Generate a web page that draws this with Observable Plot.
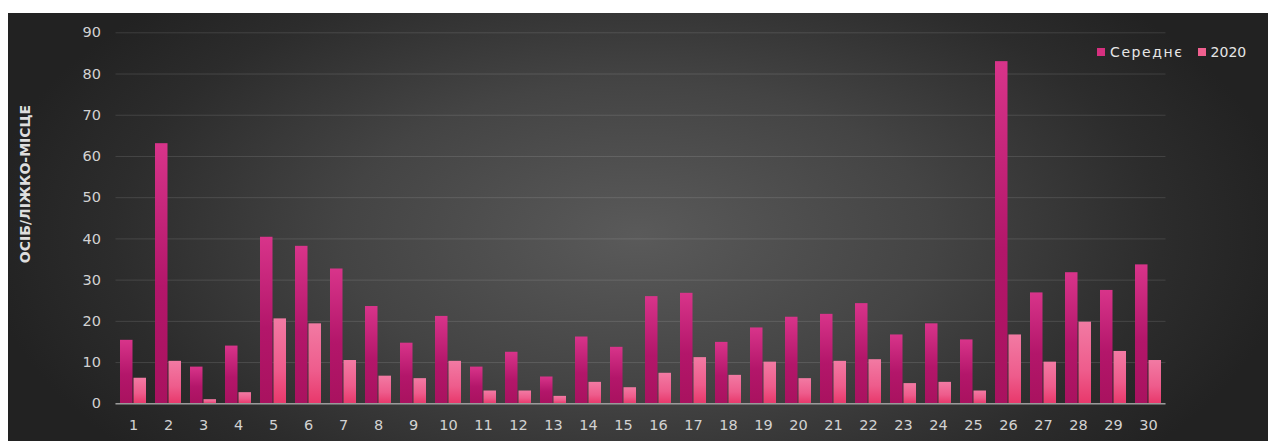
<!DOCTYPE html>
<html>
<head>
<meta charset="utf-8">
<script src="https://cdn.jsdelivr.net/npm/d3@7"></script>
<script src="https://cdn.jsdelivr.net/npm/@observablehq/plot@0.6"></script>
<style>
  html, body { margin: 0; padding: 0; background: #ffffff; }
  body { width: 1268px; height: 441px; position: relative; overflow: hidden; font-family: "DejaVu Sans", sans-serif; }
  #panel {
    position: absolute; left: 8px; top: 13px; width: 1260px; height: 428px;
    background: radial-gradient(ellipse 52% 80% at 50% 52%, #5a5a5a 0%, #444444 45%, #2c2c2c 80%, #222222 100%);
  }
  #ylabel {
    position: absolute; left: 17px; top: 176px; width: 16px; height: 16px;
  }
  #ylabel span {
    position: absolute; left: 50%; top: 50%; white-space: nowrap;
    transform: translate(-50%, -50%) rotate(-90deg);
    font-family: "DejaVu Sans", sans-serif; font-weight: bold; font-size: 14px; color: #dedede;
  }
  #legend {
    position: absolute; left: 1097px; top: 44px; display: flex; align-items: center;
    font-family: "DejaVu Sans", sans-serif; font-size: 14px; color: #e6e6e6;
  }
  #legend .sw { width: 8px; height: 8px; display: inline-block; margin-right: 5px; }
  #legend .item { display: flex; align-items: center; margin-right: 14px; }
  #legend .item:first-child span:last-child { letter-spacing: 1.6px; }
</style>
</head>
<body>
<div id="panel"></div>
<div id="ylabel"><span></span></div>
<div id="legend"></div>
<script>
const categories = ["1","2","3","4","5","6","7","8","9","10","11","12","13","14","15","16","17","18","19","20","21","22","23","24","25","26","27","28","29","30"];
const seriesNames = ["Середнє", "2020"];
const averageValues = [15.4, 63.1, 8.9, 14.0, 40.4, 38.2, 32.7, 23.6, 14.7, 21.2, 8.9, 12.5, 6.5, 16.2, 13.7, 26.0, 26.8, 14.9, 18.4, 21.0, 21.7, 24.3, 16.7, 19.4, 15.5, 83.0, 26.9, 31.8, 27.5, 33.7];
const values2020 = [6.2, 10.3, 1.0, 2.7, 20.6, 19.4, 10.5, 6.7, 6.1, 10.3, 3.1, 3.1, 1.8, 5.2, 3.9, 7.4, 11.2, 6.9, 10.1, 6.1, 10.3, 10.7, 4.9, 5.2, 3.1, 16.7, 10.1, 19.8, 12.7, 10.5];
const yTicks = [0, 10, 20, 30, 40, 50, 60, 70, 80, 90];
const yLabel = "ОСІБ/ЛІЖКО-МІСЦЕ";

const dataA = categories.map((c, i) => ({cat: c, series: seriesNames[0], value: averageValues[i]}));
const dataB = categories.map((c, i) => ({cat: c, series: seriesNames[1], value: values2020[i]}));

function defs() {
  const g = d3.create("svg:g");
  const d = g.append("defs");
  const a = d.append("linearGradient").attr("id", "gradA").attr("x1", 0).attr("y1", 0).attr("x2", 0).attr("y2", 1);
  a.append("stop").attr("offset", "0%").attr("stop-color", "#d8348a");
  a.append("stop").attr("offset", "55%").attr("stop-color", "#b3166a");
  a.append("stop").attr("offset", "100%").attr("stop-color", "#a9125f");
  const b = d.append("linearGradient").attr("id", "gradB").attr("x1", 0).attr("y1", 0).attr("x2", 0).attr("y2", 1);
  b.append("stop").attr("offset", "0%").attr("stop-color", "#f27aa3");
  b.append("stop").attr("offset", "60%").attr("stop-color", "#ee5c8c");
  b.append("stop").attr("offset", "100%").attr("stop-color", "#e8386b");
  return g.node();
}

const chart = Plot.plot({
  width: 1260,
  height: 428,
  marginTop: 19.3,
  marginBottom: 37.7,
  marginLeft: 107.5,
  marginRight: 102.5,
  style: { background: "transparent", fontFamily: "DejaVu Sans, sans-serif", fontSize: "14.5px", color: "#d2d2d2", overflow: "visible" },
  x: { domain: categories, paddingInner: 0.27, paddingOuter: 0.135, label: null, tickSize: 0, tickPadding: 16 },
  y: { domain: [0, 90], ticks: yTicks, label: null, tickSize: 0, tickPadding: 15 },
  marks: [
    defs,
    Plot.gridY(yTicks, { stroke: "#ffffff", strokeOpacity: 0.12, strokeWidth: 1 }),
    Plot.barY(dataA, { x: "cat", y: "value", fill: "url(#gradA)", insetRight: 13.5 }),
    Plot.barY(dataB, { x: "cat", y: "value", fill: "url(#gradB)", insetLeft: 13.5 }),
    Plot.ruleY([0], { stroke: "#9a9a9a", strokeWidth: 1.5 })
  ]
});
document.getElementById("panel").appendChild(chart);
chart.style.position = "absolute";
chart.style.left = "0px";
chart.style.top = "0px";

document.querySelector("#ylabel span").textContent = yLabel;

const legendColors = ["#d6307f", "#f0608f"];
const legend = document.getElementById("legend");
seriesNames.forEach((n, i) => {
  const item = document.createElement("div");
  item.className = "item";
  const sw = document.createElement("span");
  sw.className = "sw";
  sw.style.background = legendColors[i];
  const t = document.createElement("span");
  t.textContent = n;
  item.appendChild(sw);
  item.appendChild(t);
  legend.appendChild(item);
});
</script>
</body>
</html>
